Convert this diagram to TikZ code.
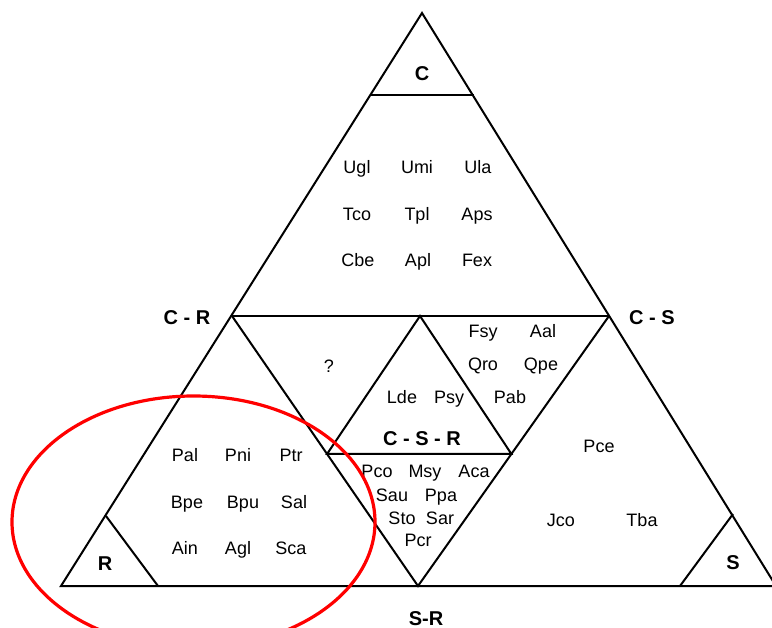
\documentclass[tikz,border=0pt]{standalone}
\usepackage{fontspec}
\setmainfont{Liberation Sans}
\usetikzlibrary{calc}
\begin{document}
\begin{tikzpicture}[x=1pt,y=-1pt,
  edge/.style={line width=2pt,line join=miter,line cap=butt},
  sp/.style={font=\fontsize{18}{20}\selectfont,text height=12.9pt,text depth=0pt,inner sep=0pt},
  lab/.style={font=\fontsize{20}{22}\selectfont\bfseries,text height=14.3pt,text depth=0pt,inner sep=0pt},
  ring/.style={draw=red,line width=3.2pt}]
\useasboundingbox (0,0) rectangle (772,628);
\clip (0,0) rectangle (772,628);
% corner points
\coordinate (A) at (422,13);
\coordinate (BL) at (61,586);
\coordinate (BR) at (776,586);
\coordinate (C1) at (371,95);
\coordinate (C2) at (474,95);
\coordinate (CR) at (232,316);
\coordinate (CS) at (609,316);
\coordinate (SR) at (418,586);
\coordinate (M) at (420,316);
\coordinate (IL) at ($(CR)!0.511!(SR)$);
\coordinate (IR) at ($(CS)!0.511!(SR)$);
\coordinate (RA) at (106,516);
\coordinate (RB) at (158,586);
\coordinate (SA) at (733,514);
\coordinate (SB) at (680,586);
% frame
\draw[edge] (A) -- (BL) -- (BR) -- cycle;
\draw[edge] (C1) -- (C2);
\draw[edge] (CR) -- (CS);
\draw[edge] (CR) -- (SR) -- (CS);
\draw[edge] (IL) -- (M) -- (IR) -- cycle;
\draw[edge] (RA) -- (RB);
\draw[edge] (SA) -- (SB);
% labels
\node[lab] (lC) at (422,73) {C};
\node[lab] (lCR) at (187,317) {C - R};
\node[lab] (lCS) at (652,317) {C - S};
\node[lab] (lSR) at (426,618) {S-R};
\node[lab] (lCSR) at (422,438) {C - S - R};
\node[lab] (lR) at (105,563) {R};
\node[lab] (lS) at (733,562) {S};
\node[sp] (q) at (329,366) {?};
% C region
\node[sp] (ugl) at (357,167) {Ugl};
\node[sp] (umi) at (417,167) {Umi};
\node[sp] (ula) at (478,167) {Ula};
\node[sp] (tco) at (357,214) {Tco};
\node[sp] (tpl) at (417,214) {Tpl};
\node[sp] (aps) at (477,214) {Aps};
\node[sp] (cbe) at (358,260) {Cbe};
\node[sp] (apl) at (418,260) {Apl};
\node[sp] (fex) at (477,260) {Fex};
% C-S region
\node[sp] (fsy) at (483,331) {Fsy};
\node[sp] (aal) at (543,331) {Aal};
\node[sp] (qro) at (483,364) {Qro};
\node[sp] (qpe) at (541,364) {Qpe};
\node[sp] (lde) at (402,397) {Lde};
\node[sp] (psy) at (449,397) {Psy};
\node[sp] (pab) at (510,397) {Pab};
% S region
\node[sp] (pce) at (599,446) {Pce};
\node[sp] (jco) at (561,520) {Jco};
\node[sp] (tba) at (642,520) {Tba};
% S-R inverted triangle
\node[sp] (pco) at (377,471) {Pco};
\node[sp] (msy) at (425,471) {Msy};
\node[sp] (aca) at (474,471) {Aca};
\node[sp] (sau) at (392,495) {Sau};
\node[sp] (ppa) at (441,495) {Ppa};
\node[sp] (sto) at (402,518) {Sto};
\node[sp] (sar) at (440,518) {Sar};
\node[sp] (pcr) at (418,540) {Pcr};
% R region
\node[sp] (pal) at (185,455) {Pal};
\node[sp] (pni) at (238,455) {Pni};
\node[sp] (ptr) at (291,455) {Ptr};
\node[sp] (bpe) at (187,502) {Bpe};
\node[sp] (bpu) at (243,502) {Bpu};
\node[sp] (sal) at (294,502) {Sal};
\node[sp] (ain) at (185,548) {Ain};
\node[sp] (agl) at (238,548) {Agl};
\node[sp] (sca) at (291,548) {Sca};
% red ellipse
\draw[ring] (193.5,522) ellipse [x radius=181.5, y radius=126];
\end{tikzpicture}
\end{document}
